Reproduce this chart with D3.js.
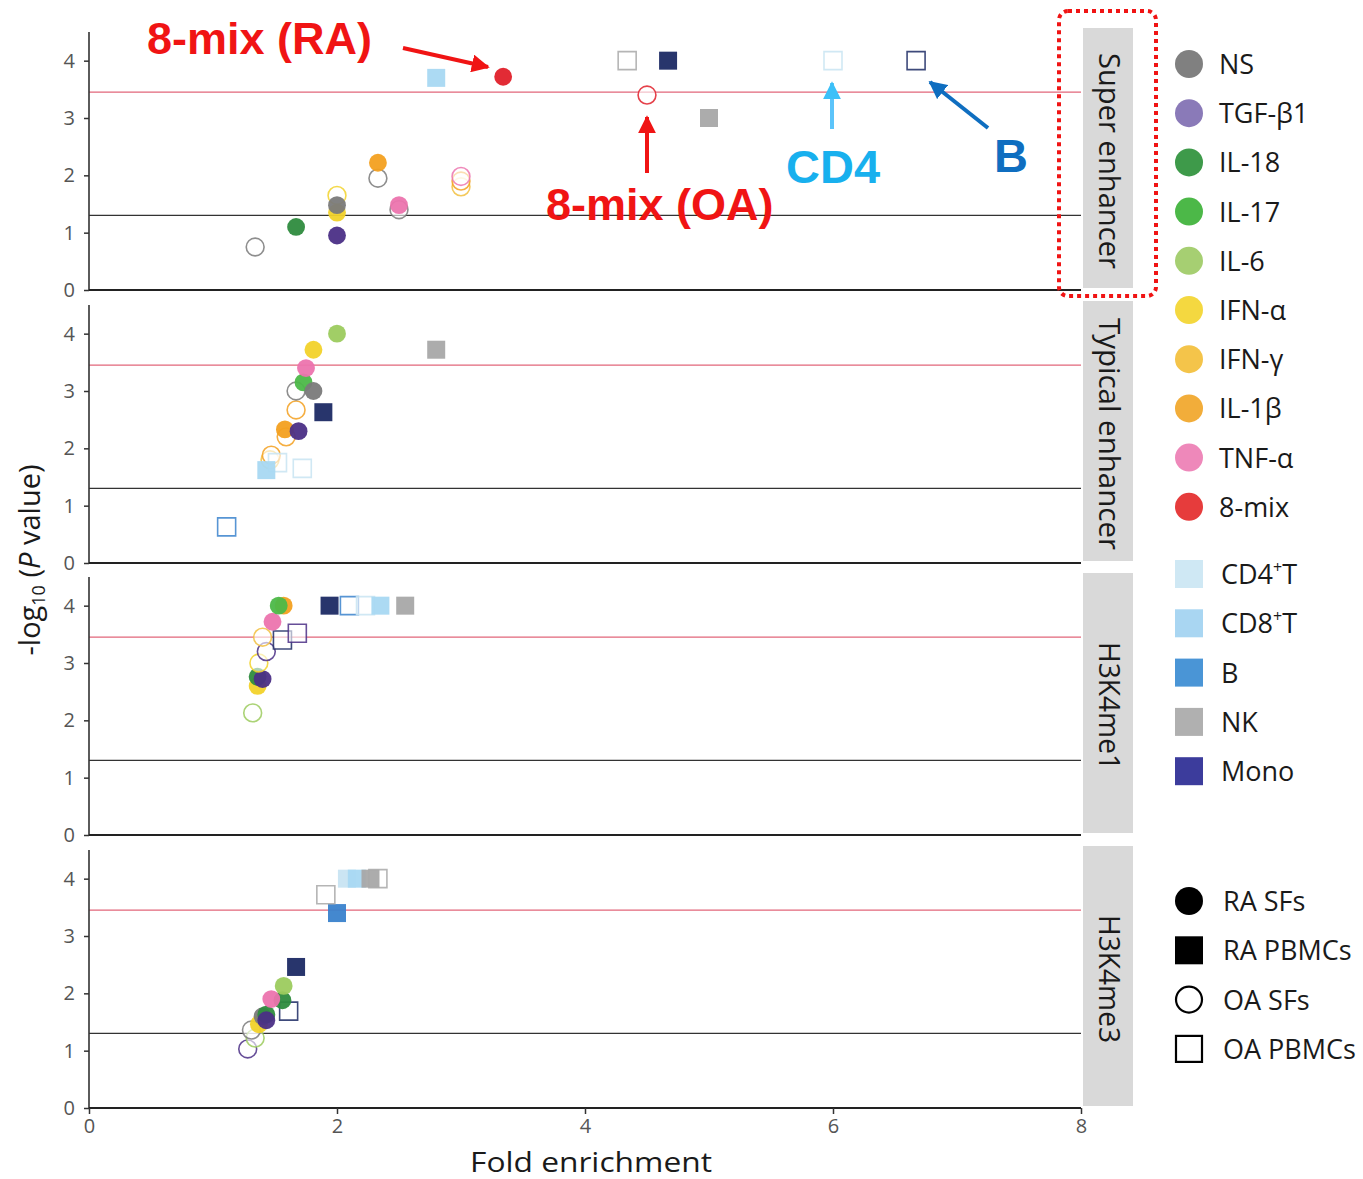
<!DOCTYPE html>
<html><head><meta charset="utf-8">
<script src="https://cdn.jsdelivr.net/npm/d3@7"></script>
<style>body{margin:0;background:#fff}svg{display:block}</style>
</head><body>
<svg id="c" width="1363" height="1179"></svg>
<script>
// ---------- data ----------
const panelNames = ["Super enhancer", "Typical enhancer", "H3K4me1", "H3K4me3"];
const stimuli = ["NS", "TGF-β1", "IL-18", "IL-17", "IL-6", "IFN-α", "IFN-γ", "IL-1β", "TNF-α", "8-mix"];
const stimulusColors = ["#808080", "#8a7ab8", "#3e9a4a", "#4cb848", "#a6cf72", "#f4d840", "#f4c44a", "#f2ad3a", "#ee88ba", "#e63c3c"];
const stimulusPointColors = ["#7a7a7a", "#4b2f86", "#2e8b3e", "#4cb848", "#9ccb5e", "#f2d22a", "#f2c040", "#f3a020", "#ec74ae", "#e0202a"];
const cellTypes = ["CD4⁺T", "CD8⁺T", "B", "NK", "Mono"];
const cellKeys = ["CD4", "CD8", "B", "NK", "Mono"];
const cellColors = ["#cfe8f4", "#a9d6f2", "#4a95d6", "#b0b0b0", "#3c3c9c"];
const cellPointColors = ["#c8e4f2", "#a8d8f2", "#3a82cc", "#a8a8a8", "#1c2a64"];
const sampleTypes = ["RA SFs", "RA PBMCs", "OA SFs", "OA PBMCs"];
const xTicks = [0, 2, 4, 6, 8];
const yTicks = [0, 1, 2, 3, 4];
const thresholdLines = [1.30, 3.45];

// [group, sample type, fold enrichment, -log10 P]
const superEnhancer = [
  ["NS", "OA SFs", 1.34, 0.75],
  ["IL-18", "RA SFs", 1.67, 1.10],
  ["IFN-α", "OA SFs", 2.0, 1.65],
  ["IFN-α", "RA SFs", 2.0, 1.35],
  ["NS", "RA SFs", 2.0, 1.48],
  ["TGF-β1", "RA SFs", 2.0, 0.95],
  ["NS", "OA SFs", 2.33, 1.95],
  ["IL-1β", "RA SFs", 2.33, 2.22],
  ["NS", "OA SFs", 2.5, 1.40],
  ["TNF-α", "RA SFs", 2.5, 1.48],
  ["IFN-γ", "OA SFs", 3.0, 1.80],
  ["IL-1β", "OA SFs", 3.0, 1.90],
  ["TNF-α", "OA SFs", 3.0, 1.98],
  ["CD8", "RA PBMCs", 2.8, 3.70],
  ["8-mix", "RA SFs", 3.34, 3.72],
  ["NK", "OA PBMCs", 4.34, 4.0],
  ["Mono", "RA PBMCs", 4.67, 4.0],
  ["8-mix", "OA SFs", 4.5, 3.40],
  ["NK", "RA PBMCs", 5.0, 3.0],
  ["CD4", "OA PBMCs", 6.0, 4.0],
  ["Mono", "OA PBMCs", 6.67, 4.0]
];
const typicalEnhancer = [
  ["B", "OA PBMCs", 1.11, 0.63],
  ["IFN-γ", "OA SFs", 1.46, 1.80],
  ["IL-1β", "OA SFs", 1.47, 1.88],
  ["CD4", "OA PBMCs", 1.52, 1.75],
  ["CD8", "RA PBMCs", 1.43, 1.62],
  ["CD4", "OA PBMCs", 1.72, 1.65],
  ["IL-1β", "OA SFs", 1.59, 2.20],
  ["IL-1β", "RA SFs", 1.58, 2.33],
  ["TGF-β1", "RA SFs", 1.69, 2.30],
  ["IL-1β", "OA SFs", 1.67, 2.67],
  ["Mono", "RA PBMCs", 1.89, 2.63],
  ["NS", "OA SFs", 1.67, 3.00],
  ["IL-17", "RA SFs", 1.73, 3.15],
  ["NS", "RA SFs", 1.81, 3.00],
  ["TNF-α", "RA SFs", 1.75, 3.40],
  ["IFN-α", "RA SFs", 1.81, 3.72],
  ["IL-6", "RA SFs", 2.0, 4.0],
  ["NK", "RA PBMCs", 2.8, 3.72]
];
const h3k4me1 = [
  ["IL-6", "OA SFs", 1.32, 2.13],
  ["IFN-α", "RA SFs", 1.36, 2.60],
  ["IL-18", "RA SFs", 1.36, 2.76],
  ["TGF-β1", "RA SFs", 1.40, 2.72],
  ["IFN-α", "OA SFs", 1.37, 3.00],
  ["TGF-β1", "OA SFs", 1.43, 3.20],
  ["IFN-γ", "OA SFs", 1.40, 3.45],
  ["Mono", "OA PBMCs", 1.56, 3.40],
  ["TGF-β1", "OA PBMCs", 1.68, 3.52],
  ["TNF-α", "RA SFs", 1.48, 3.72],
  ["IL-1β", "RA SFs", 1.57, 4.0],
  ["IL-17", "RA SFs", 1.53, 4.0],
  ["Mono", "RA PBMCs", 1.94, 4.0],
  ["B", "OA PBMCs", 2.10, 4.0],
  ["CD4", "OA PBMCs", 2.23, 4.0],
  ["CD8", "RA PBMCs", 2.35, 4.0],
  ["NK", "RA PBMCs", 2.55, 4.0]
];
const h3k4me3 = [
  ["TGF-β1", "OA SFs", 1.28, 1.03],
  ["IL-6", "OA SFs", 1.34, 1.22],
  ["NS", "OA SFs", 1.31, 1.36],
  ["IFN-α", "RA SFs", 1.37, 1.46],
  ["NS", "RA SFs", 1.40, 1.60],
  ["IL-18", "RA SFs", 1.43, 1.63],
  ["TGF-β1", "RA SFs", 1.43, 1.53],
  ["Mono", "OA PBMCs", 1.61, 1.69],
  ["IL-18", "RA SFs", 1.56, 1.88],
  ["TNF-α", "RA SFs", 1.47, 1.90],
  ["IL-6", "RA SFs", 1.57, 2.13],
  ["Mono", "RA PBMCs", 1.67, 2.46],
  ["B", "RA PBMCs", 2.0, 3.40],
  ["NK", "OA PBMCs", 1.91, 3.72],
  ["CD4", "RA PBMCs", 2.08, 4.0],
  ["CD8", "RA PBMCs", 2.16, 4.0],
  ["NK", "OA PBMCs", 2.33, 4.0],
  ["NK", "RA PBMCs", 2.27, 4.0]
];
const panelPoints = [superEnhancer, typicalEnhancer, h3k4me1, h3k4me3];

// ---------- drawing ----------
const svg = d3.select("#c");
const x = d3.scaleLinear().domain([0, 8]).range([89, 1081]);
const panelTops = [32, 305, 577, 850];
const panelH = 258;
const fontUI = "'Open Sans', 'Noto Sans', sans-serif";

function colorOf(g) {
  const i = stimuli.indexOf(g);
  if (i >= 0) return stimulusPointColors[i];
  return cellPointColors[cellKeys.indexOf(g)];
}

panelPoints.forEach((pts, pi) => {
  const top = panelTops[pi];
  const y = d3.scaleLinear().domain([0, 4.5]).range([top + panelH, top]);
  const g = svg.append("g");

  // strip
  g.append("rect").attr("x", 1083).attr("y", top - 4).attr("width", 50).attr("height", panelH + 2).attr("fill", "#d9d9d9");
  g.append("text").attr("transform", `translate(1099,${top + panelH / 2}) rotate(90)`)
    .attr("text-anchor", "middle").attr("font-family", fontUI).attr("font-size", 29).attr("fill", "#1a1a1a")
    .attr("textLength", pi === 0 ? 216 : pi === 1 ? 232 : 128).attr("lengthAdjust", "spacingAndGlyphs")
    .text(panelNames[pi]);

  // threshold lines
  g.selectAll("line.th").data(thresholdLines).join("line")
    .attr("x1", x(0)).attr("x2", x(8)).attr("y1", d => y(d)).attr("y2", d => y(d))
    .attr("stroke", (d, i) => i === 0 ? "#333" : "#e2667a").attr("stroke-width", 1.3);

  // y axis
  const ay = g.append("g").attr("transform", `translate(${x(0)},0)`)
    .call(d3.axisLeft(y).tickValues(yTicks).tickSize(5).tickPadding(9).tickFormat(d3.format("d")));
  ay.select(".domain").attr("d", `M0,${top}V${top + panelH}`).attr("stroke", "#333").attr("stroke-width", 1.6);
  ay.selectAll(".tick line").attr("stroke", "#333").attr("stroke-width", 1.5);
  ay.selectAll(".tick text").attr("font-family", fontUI).attr("font-size", 20).attr("fill", "#555");

  // x axis
  const ax = g.append("g").attr("transform", `translate(0,${top + panelH})`)
    .call(d3.axisBottom(x).tickValues(xTicks).tickSize(pi === 3 ? 6 : 0).tickPadding(5).tickFormat(d3.format("d")));
  ax.select(".domain").attr("d", `M${x(0)},0H${x(8)}`).attr("stroke", "#222").attr("stroke-width", 2.2);
  ax.selectAll(".tick line").attr("stroke", "#333").attr("stroke-width", 1.5);
  ax.selectAll(".tick text").attr("font-family", fontUI).attr("font-size", 20).attr("fill", "#555")
    .style("display", pi === 3 ? null : "none");

  // points
  g.selectAll("path.pt").data(pts).join("path")
    .attr("transform", d => `translate(${x(d[2])},${y(d[3])})`)
    .attr("d", d => d[1].includes("SFs") ? d3.symbol(d3.symbolCircle, 250)() : "M-9,-9H9V9H-9Z")
    .attr("fill", d => d[1].startsWith("RA") ? colorOf(d[0]) : "#fff")
    .attr("fill-opacity", d => d[1].startsWith("RA") ? 0.95 : 0.6)
    .attr("stroke", d => colorOf(d[0]))
    .attr("stroke-width", d => d[1].startsWith("RA") ? 0 : 1.6)
    .attr("stroke-opacity", 0.85);
});

// axis titles
svg.append("text").attr("x", 591).attr("y", 1172).attr("text-anchor", "middle")
  .attr("font-family", fontUI).attr("font-size", 28).attr("fill", "#1a1a1a")
  .attr("textLength", 242).attr("lengthAdjust", "spacingAndGlyphs").text("Fold enrichment");
const yt = svg.append("text").attr("transform", "translate(40,560) rotate(-90)").attr("text-anchor", "middle")
  .attr("font-family", fontUI).attr("font-size", 29).attr("fill", "#1a1a1a");
yt.append("tspan").text("-log");
yt.append("tspan").attr("font-size", 18).attr("dy", 5).text("10");
yt.append("tspan").attr("dy", -5).text(" (");
yt.append("tspan").attr("font-style", "italic").text("P");
yt.append("tspan").text(" value)");

// legends
const leg = svg.append("g").attr("font-family", fontUI).attr("font-size", 27).attr("fill", "#1a1a1a");
stimuli.forEach((s, i) => {
  const cy = 64 + i * 49.2;
  leg.append("circle").attr("cx", 1189).attr("cy", cy).attr("r", 14).attr("fill", stimulusColors[i]);
  leg.append("text").attr("x", 1219).attr("y", cy + 10).text(s);
});
cellTypes.forEach((c, i) => {
  const cy = 574 + i * 49.3;
  leg.append("rect").attr("x", 1175).attr("y", cy - 14).attr("width", 28).attr("height", 28).attr("fill", cellColors[i]);
  const t = leg.append("text").attr("x", 1221).attr("y", cy + 10);
  if (c.includes("⁺")) {
    const parts = c.split("⁺");
    t.append("tspan").text(parts[0]);
    t.append("tspan").attr("font-size", 16).attr("dy", -11).text("+");
    t.append("tspan").attr("dy", 11).text(parts[1]);
  } else t.text(c);
});
sampleTypes.forEach((s, i) => {
  const cy = 901 + i * 49.3;
  const filled = s.startsWith("RA");
  const sym = s.includes("SFs")
    ? leg.append("circle").attr("cx", 1189).attr("cy", cy).attr("r", filled ? 14 : 13)
    : leg.append("rect").attr("x", filled ? 1175 : 1176).attr("y", cy - (filled ? 14 : 13)).attr("width", filled ? 28 : 26).attr("height", filled ? 28 : 26);
  sym.attr("fill", filled ? "#000" : "#fff").attr("stroke", "#000").attr("stroke-width", filled ? 0 : 2.2);
  leg.append("text").attr("x", 1223).attr("y", cy + 10).text(s);
});

// annotations
const ann = svg.append("g").attr("font-family", "'Liberation Sans', Arial, sans-serif").attr("font-weight", "bold").attr("font-size", 45);
const defs = svg.append("defs");
[["red", "#f01414"], ["lb", "#3cc0f8"], ["db", "#0f6ec0"]].forEach(([id, col]) => {
  defs.append("marker").attr("id", "ah-" + id).attr("viewBox", "0 0 10 10").attr("refX", 9).attr("refY", 5)
    .attr("markerWidth", 4.5).attr("markerHeight", 4.5).attr("orient", "auto")
    .append("path").attr("d", "M0,0L10,5L0,10Z").attr("fill", col);
});
ann.append("text").attr("x", 147).attr("y", 54).attr("fill", "#f01414").text("8-mix (RA)");
ann.append("text").attr("x", 546).attr("y", 220).attr("fill", "#f01414").text("8-mix (OA)");
ann.append("text").attr("x", 786).attr("y", 183).attr("fill", "#18b0ee").attr("font-size", 47).text("CD4");
ann.append("text").attr("x", 994).attr("y", 172).attr("fill", "#0f6ec0").attr("font-size", 47).text("B");
const arrows = [
  [403, 48, 488, 67, "red", "#f01414"],
  [647, 173, 647, 117, "red", "#f01414"],
  [832, 129, 832, 83, "lb", "#5cc4fa"],
  [988, 128, 930, 82, "db", "#0f6ec0"]
];
arrows.forEach(a => {
  svg.append("line").attr("x1", a[0]).attr("y1", a[1]).attr("x2", a[2]).attr("y2", a[3])
    .attr("stroke", a[5]).attr("stroke-width", 4).attr("marker-end", `url(#ah-${a[4]})`);
});
// dotted highlight box
svg.append("rect").attr("x", 1059).attr("y", 11).attr("width", 97).attr("height", 285).attr("rx", 9)
  .attr("fill", "none").attr("stroke", "#f01414").attr("stroke-width", 4).attr("stroke-dasharray", "4,4");
</script>
</body></html>
